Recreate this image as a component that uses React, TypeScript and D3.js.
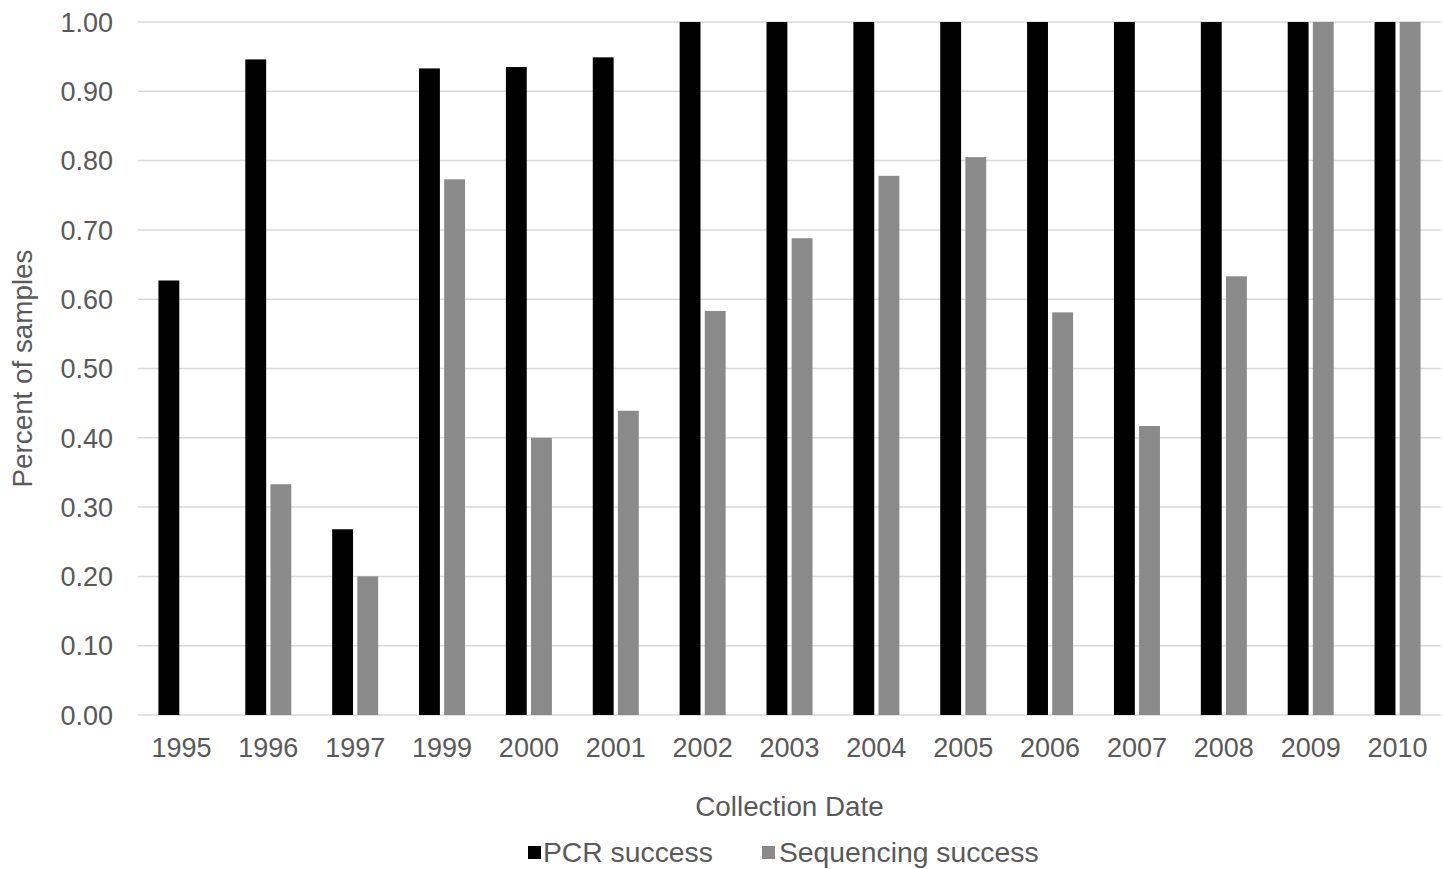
import React from "react";
import * as d3 from "d3";

const years = ["1995","1996","1997","1999","2000","2001","2002","2003","2004","2005","2006","2007","2008","2009","2010"];
const pcrSuccess = [0.627, 0.946, 0.268, 0.933, 0.935, 0.949, 1, 1, 1, 1, 1, 1, 1, 1, 1];
const seqSuccess = [0, 0.333, 0.2, 0.773, 0.4, 0.439, 0.583, 0.688, 0.778, 0.805, 0.581, 0.417, 0.633, 1, 1];
const seriesNames = ["PCR success", "Sequencing success"];
const seriesColors = ["#000000", "#8a8a8a"];
const yTicks = [0, 0.1, 0.2, 0.3, 0.4, 0.5, 0.6, 0.7, 0.8, 0.9, 1.0];

const W = 1443, H = 869;
const left = 138, right = 1441, top = 22, bottom = 715;
const FONT = "'Liberation Sans', Arial, sans-serif";
const TXT = "#595959";

export default function App() {
  const x = d3.scaleBand<string>().domain(years).range([left, right]).padding(0);
  const inner = d3.scaleBand<string>().domain(seriesNames).range([-23, 23]).paddingInner(0.17);
  const y = d3.scaleLinear().domain([0, 1]).range([bottom, top]);
  const data = [pcrSuccess, seqSuccess];

  return (
    <svg width={W} height={H} style={{ position: "absolute", left: 0, top: 0, background: "#fff" }} fontFamily={FONT}>
      {yTicks.map((t) => (
        <g key={t}>
          <line x1={left} x2={right} y1={y(t)} y2={y(t)} stroke="#d9d9d9" strokeWidth={1.5} />
          <text x={113} y={y(t)} dy="0.36em" textAnchor="end" fontSize={27} fill={TXT}>{d3.format(".2f")(t)}</text>
        </g>
      ))}
      {years.map((yr, i) => {
        const c = (x(yr) as number) + x.bandwidth() / 2;
        return (
          <g key={yr}>
            {seriesNames.map((s, k) => {
              const v = data[k][i];
              if (!v) return null;
              return (
                <rect key={s} x={c + (inner(s) as number)} width={inner.bandwidth()} y={y(v)} height={y(0) - y(v)} fill={seriesColors[k]} />
              );
            })}
            <text x={c} y={757} textAnchor="middle" fontSize={27} fill={TXT}>{yr}</text>
          </g>
        );
      })}
      <text x={(left + right) / 2} y={816} textAnchor="middle" fontSize={27.8} fill={TXT}>Collection Date</text>
      <text transform={`translate(32, ${(top + bottom) / 2}) rotate(-90)`} textAnchor="middle" fontSize={27.8} fill={TXT}>Percent of samples</text>
      <g>
        <rect x={528} y={846} width={13} height={13} fill={seriesColors[0]} />
        <text x={543} y={862} fontSize={28.3} fill={TXT}>{seriesNames[0]}</text>
        <rect x={762} y={846} width={13} height={13} fill={seriesColors[1]} />
        <text x={779} y={862} fontSize={28.3} fill={TXT}>{seriesNames[1]}</text>
      </g>
    </svg>
  );
}
